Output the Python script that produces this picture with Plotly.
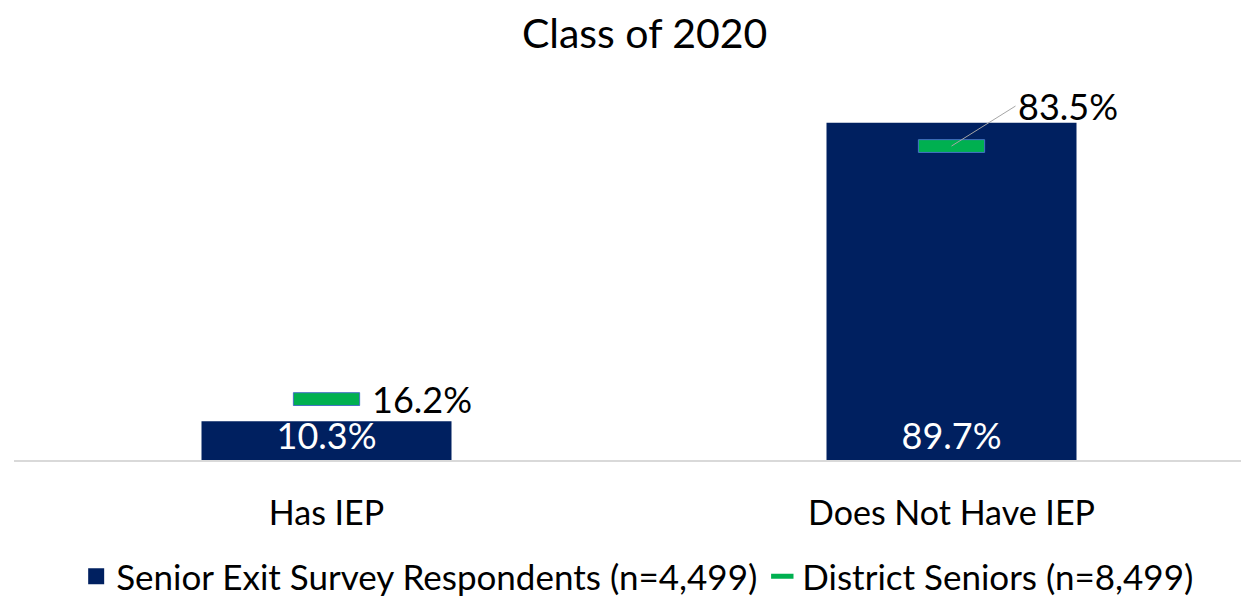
import plotly.graph_objects as go

categories = ["Has IEP", "Does Not Have IEP"]
survey_values = [10.3, 89.7]
district_values = [16.2, 83.5]
survey_name = "Senior Exit Survey Respondents (n=4,499)"
district_name = "District Seniors (n=8,499)"
title_text = "Class of 2020"

NAVY = "#002060"
GREEN = "#00B050"
FONT = "Lato, Liberation Sans, sans-serif"

marker_h = 3.4  # thickness of district marker in axis units
fig = go.Figure()

fig.add_trace(go.Bar(
    x=categories, y=survey_values, name=survey_name, showlegend=False,
    marker=dict(color=NAVY, line=dict(width=0)),
    width=0.4,
    text=[f"{v:.1f}%" for v in survey_values],
    textposition="inside", insidetextanchor="start",
    textfont=dict(color="white", size=36, family=FONT),
    cliponaxis=False,
))

fig.add_trace(go.Bar(
    x=categories, y=[marker_h] * len(district_values),
    base=[v - marker_h / 2 for v in district_values],
    name=district_name, showlegend=False,
    marker=dict(color=GREEN, line=dict(color="#4472C4", width=1)),
    width=0.106,
))

# legend proxies
fig.add_trace(go.Scatter(
    x=[None], y=[None], mode="markers", name=survey_name,
    marker=dict(symbol="square", size=16, color=NAVY),
))
fig.add_trace(go.Scatter(
    x=[None], y=[None], mode="markers", name=district_name,
    marker=dict(symbol="line-ew", size=16, color=GREEN,
                line=dict(color=GREEN, width=5)),
))

# district labels
fig.add_annotation(x=categories[0], y=district_values[0], text=f"{district_values[0]:.1f}%",
                   xshift=43, showarrow=False, xanchor="left", yanchor="middle",
                   font=dict(size=36, color="black", family=FONT))
fig.add_annotation(x=categories[1], y=district_values[1], text=f"{district_values[1]:.1f}%",
                   showarrow=True, arrowhead=0, arrowcolor="#a6a6a6", arrowwidth=1,
                   ax=64, ay=-40, xanchor="left", yanchor="middle",
                   font=dict(size=36, color="black", family=FONT))

fig.update_layout(
    width=1241, height=590,
    margin=dict(l=6, r=0, t=76, b=138, autoexpand=False),
    plot_bgcolor="white", paper_bgcolor="white",
    barmode="overlay",
    title=dict(text=title_text, x=0.513, xanchor="center", y=0.956, yanchor="middle",
               font=dict(size=41, color="black", family=FONT)),
    font=dict(family=FONT, color="black"),
    xaxis=dict(range=[-0.5, 1.476], showgrid=False, showline=True, linecolor="#d9d9d9",
               linewidth=1.5, ticks="", tickfont=dict(size=34, color="black", family=FONT),
               ticklabelstandoff=22),
    yaxis=dict(range=[0, 100], visible=False, showgrid=False),
    legend=dict(orientation="h", x=0.505, xanchor="center", y=-0.31, yanchor="middle",
                font=dict(size=35, color="black", family=FONT), itemwidth=30,
                tracegroupgap=0),
    uniformtext=dict(minsize=36, mode="show"),
)

fig.write_html("out.html")
